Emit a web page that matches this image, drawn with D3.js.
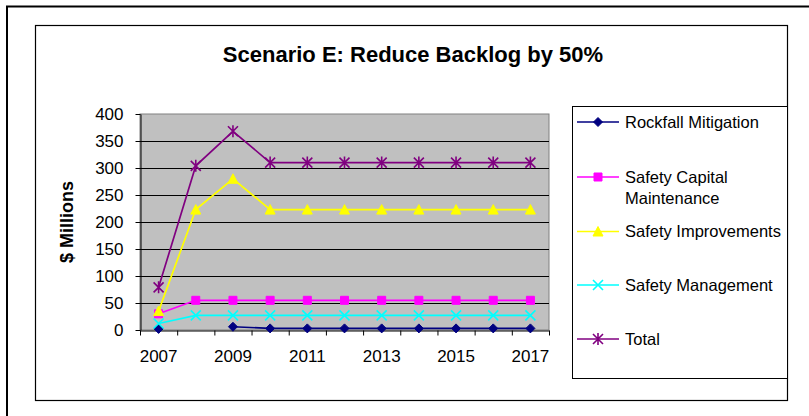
<!DOCTYPE html>
<html>
<head>
<meta charset="utf-8">
<script src="https://cdn.jsdelivr.net/npm/d3@7"></script>
<style>
  html, body { margin: 0; padding: 0; background: #fff; }
  svg { display: block; font-family: "Liberation Sans", Arial, sans-serif; }
</style>
</head>
<body>
<svg id="chart" width="809" height="416"></svg>
<script>
// Budget scenario data ($ millions per year)
const years = [2007, 2008, 2009, 2010, 2011, 2012, 2013, 2014, 2015, 2016, 2017];
const rockfallMitigation = [2, null, 6, 3, 3, 3, 3, 3, 3, 3, 3];
const safetyCapitalMaintenance = [30, 55, 55, 55, 55, 55, 55, 55, 55, 55, 55];
const safetyImprovements = [35, 223, 280, 223, 223, 223, 223, 223, 223, 223, 223];
const safetyManagement = [12, 27, 27, 27, 27, 27, 27, 27, 27, 27, 27];
const total = [79, 304, 368, 310, 310, 310, 310, 310, 310, 310, 310];
const yTicks = [0, 50, 100, 150, 200, 250, 300, 350, 400];
const xLabelYears = [2007, 2009, 2011, 2013, 2015, 2017];
const seriesNames = ["Rockfall Mitigation", "Safety Capital Maintenance", "Safety Improvements", "Safety Management", "Total"];

const series = [
  { name: seriesNames[0], values: rockfallMitigation, color: "#000080", marker: "diamond" },
  { name: seriesNames[1], values: safetyCapitalMaintenance, color: "#FF00FF", marker: "square" },
  { name: seriesNames[2], values: safetyImprovements, color: "#FFFF00", marker: "triangle" },
  { name: seriesNames[3], values: safetyManagement, color: "#00FFFF", marker: "x" },
  { name: seriesNames[4], values: total, color: "#800080", marker: "star" }
];

const svg = d3.select("#chart");

// Outer frame and chart area
svg.append("rect").attr("x", 7).attr("y", 6.5).attr("width", 830).attr("height", 430)
  .attr("fill", "none").attr("stroke", "#000").attr("stroke-width", 2);
svg.append("rect").attr("x", 35.5).attr("y", 25.5).attr("width", 752).attr("height", 375)
  .attr("fill", "#fff").attr("stroke", "#000").attr("stroke-width", 1.2);

const plot = { left: 140, right: 549, top: 114, bottom: 330 };

const x = d3.scaleBand().domain(years).range([plot.left, plot.right]).padding(0);
const xEdge = d3.scaleLinear().domain([0, years.length]).range([plot.left, plot.right]);
const y = d3.scaleLinear().domain([0, 400]).range([plot.bottom, plot.top]);
const cx = d => x(d) + x.bandwidth() / 2;

// Plot background
svg.append("rect").attr("x", plot.left).attr("y", plot.top)
  .attr("width", plot.right - plot.left).attr("height", plot.bottom - plot.top)
  .attr("fill", "#C0C0C0").attr("stroke", "#808080").attr("stroke-width", 1);

// Horizontal gridlines
svg.append("g").selectAll("line").data(yTicks.filter(t => t > 0 && t < 400)).join("line")
  .attr("x1", plot.left).attr("x2", plot.right)
  .attr("y1", d => Math.round(y(d)) + 0.5).attr("y2", d => Math.round(y(d)) + 0.5)
  .attr("stroke", "#000").attr("stroke-width", 1);

// Y axis
const yAxis = svg.append("g").attr("transform", `translate(${plot.left + 0.5},0)`)
  .call(d3.axisLeft(y).tickValues(yTicks).tickSize(5).tickPadding(12).tickSizeOuter(0));
yAxis.select(".domain").attr("stroke", "#000");
yAxis.selectAll("text").attr("font-size", 17).attr("fill", "#000")
  .attr("font-family", "'Liberation Sans', Arial, sans-serif");

// X axis: tick marks between categories, labels at alternate years
const xTickAxis = svg.append("g").attr("transform", `translate(0,${plot.bottom + 0.5})`)
  .call(d3.axisBottom(xEdge).ticks(years.length).tickSize(5).tickFormat("").tickSizeOuter(0));
xTickAxis.select(".domain").attr("stroke", "#000");
const xLabelAxis = svg.append("g").attr("transform", `translate(0,${plot.bottom})`)
  .call(d3.axisBottom(x).tickValues(xLabelYears).tickSize(0).tickPadding(20));
xLabelAxis.select(".domain").remove();
xLabelAxis.selectAll("text").attr("font-size", 17).attr("fill", "#000")
  .attr("font-family", "'Liberation Sans', Arial, sans-serif");

// Marker shapes
function markerPath(type) {
  switch (type) {
    case "diamond": return "M0,-4.5L4.5,0L0,4.5L-4.5,0Z";
    case "square": return "M-4,-4H4V4H-4Z";
    case "triangle": return "M0,-5L5,4.5H-5Z";
    case "x": return "M-5,-5L5,5M-5,5L5,-5";
    case "star": return "M-5,-5L5,5M-5,5L5,-5M0,-6V6";
  }
}
function drawMarker(g, type, color) {
  const filled = type === "diamond" || type === "square" || type === "triangle";
  g.append("path").attr("d", markerPath(type))
    .attr("fill", filled ? color : "none")
    .attr("stroke", color).attr("stroke-width", filled ? 1 : 1.6);
}

// Series lines and markers
const line = d3.line()
  .defined(d => d.v != null)
  .x(d => cx(d.year)).y(d => y(d.v));

series.forEach(s => {
  const pts = years.map((yr, i) => ({ year: yr, v: s.values[i] }));
  svg.append("path").datum(pts)
    .attr("d", line).attr("fill", "none")
    .attr("stroke", s.color).attr("stroke-width", 1.7);
  pts.filter(p => p.v != null).forEach(p => {
    const g = svg.append("g").attr("transform", `translate(${cx(p.year)},${y(p.v)})`);
    drawMarker(g, s.marker, s.color);
  });
});

// Title
svg.append("text").attr("x", 413).attr("y", 62).attr("text-anchor", "middle")
  .attr("font-size", 22).attr("font-weight", "bold").attr("fill", "#000")
  .text("Scenario E: Reduce Backlog by 50%");

// Y axis title
svg.append("text").attr("transform", `translate(73,${(plot.top + plot.bottom) / 2}) rotate(-90)`)
  .attr("text-anchor", "middle").attr("font-size", 18).attr("font-weight", "bold").attr("fill", "#000")
  .text("$ Millions");

// Legend
svg.append("rect").attr("x", 572.5).attr("y", 106.5).attr("width", 215).attr("height", 272)
  .attr("fill", "#fff").attr("stroke", "#000").attr("stroke-width", 1);
const legendY = [122, 177, 231.5, 285, 339];
series.forEach((s, i) => {
  const g = svg.append("g").attr("transform", `translate(0,${legendY[i]})`);
  g.append("line").attr("x1", 577).attr("x2", 619).attr("y1", 0).attr("y2", 0)
    .attr("stroke", s.color).attr("stroke-width", 1.7);
  const m = g.append("g").attr("transform", "translate(598,0)");
  drawMarker(m, s.marker, s.color);
  const t = g.append("text").attr("x", 625).attr("y", 0).attr("dy", "0.35em")
    .attr("font-size", 16.5).attr("fill", "#000");
  if (s.name === "Safety Capital Maintenance") {
    t.append("tspan").attr("x", 625).text("Safety Capital");
    t.append("tspan").attr("x", 625).attr("dy", "1.3em").text("Maintenance");
  } else {
    t.text(s.name);
  }
});
</script>
</body>
</html>
